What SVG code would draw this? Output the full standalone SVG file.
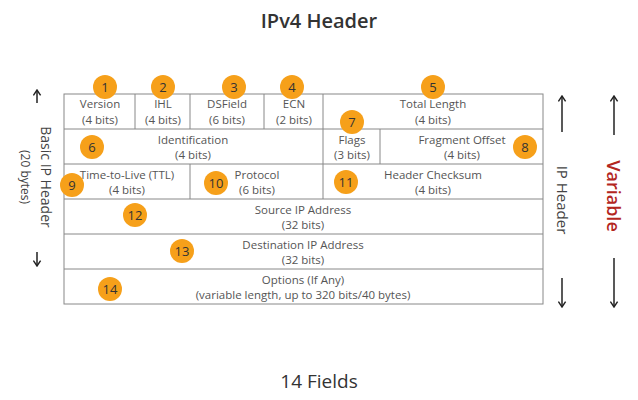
<svg xmlns="http://www.w3.org/2000/svg" width="638" height="400" viewBox="0 0 638 400">
<defs>
<marker id="ah" viewBox="0 0 10 10" refX="9" refY="5" markerWidth="9" markerHeight="9" orient="auto" markerUnits="userSpaceOnUse"><path d="M3,1 L9,5 L3,9" fill="none" stroke="#222" stroke-width="1.6"/></marker>
</defs>
<style>
.c{fill:none;stroke:#888;stroke-width:1}
.t{font-family:"Open Sans","Noto Sans",sans-serif;font-size:11.5px;fill:#555;text-anchor:middle}
.b circle{fill:#F6A01A}
.b text{font-family:"Open Sans",sans-serif;font-size:13px;fill:#333;text-anchor:middle}
.a{stroke:#222;stroke-width:1.5;marker-end:url(#ah)}
</style>
<rect width="638" height="400" fill="#fff"/>
<text x="319" y="28" font-family="Open Sans,sans-serif" font-size="20" font-weight="600" fill="#333" text-anchor="middle">IPv4 Header</text>
<text x="319" y="388" font-family="Open Sans,sans-serif" font-size="19" fill="#333" text-anchor="middle">14 Fields</text>
<g id="grid">
<rect class="c" x="64" y="94" width="479" height="210"/>
<path class="c" d="M64 129H543M64 164H543M64 199H543M64 234H543M64 269H543M135 94V129M190 94V129M264 94V129M323 94V129M323 129V164M380 129V164M190 164V199M323 164V199"/>
</g>
<g id="fields">
<text class="t" x="100" y="108">Version</text><text class="t" x="100" y="124">(4 bits)</text>
<text class="t" x="163" y="108">IHL</text><text class="t" x="163" y="124">(4 bits)</text>
<text class="t" x="227" y="108">DSField</text><text class="t" x="227" y="124">(6 bits)</text>
<text class="t" x="294" y="108">ECN</text><text class="t" x="294" y="124">(2 bits)</text>
<text class="t" x="433" y="108">Total Length</text><text class="t" x="433" y="124">(4 bits)</text>
<text class="t" x="193" y="144">Identification</text><text class="t" x="193" y="159">(4 bits)</text>
<text class="t" x="352" y="144">Flags</text><text class="t" x="352" y="159">(3 bits)</text>
<text class="t" x="462" y="144">Fragment Offset</text><text class="t" x="462" y="159">(4 bits)</text>
<text class="t" x="127" y="179">Time-to-Live (TTL)</text><text class="t" x="127" y="194">(4 bits)</text>
<text class="t" x="257" y="179">Protocol</text><text class="t" x="257" y="194">(6 bits)</text>
<text class="t" x="433" y="179">Header Checksum</text><text class="t" x="433" y="194">(4 bits)</text>
<text class="t" x="303" y="214">Source IP Address</text><text class="t" x="303" y="229">(32 bits)</text>
<text class="t" x="303" y="249">Destination IP Address</text><text class="t" x="303" y="264">(32 bits)</text>
<text class="t" x="303" y="284">Options (If Any)</text><text class="t" x="303" y="299">(variable length, up to 320 bits/40 bytes)</text>
</g>
<g id="badges" class="b">
<g id="b1"><circle cx="105" cy="87" r="12"/><text x="105" y="92">1</text></g>
<g id="b2"><circle cx="163" cy="87" r="12"/><text x="163" y="92">2</text></g>
<g id="b3"><circle cx="234" cy="87" r="12"/><text x="234" y="92">3</text></g>
<g id="b4"><circle cx="292" cy="87" r="12"/><text x="292" y="92">4</text></g>
<g id="b5"><circle cx="433" cy="87" r="12"/><text x="433" y="92">5</text></g>
<g id="b6"><circle cx="92" cy="147" r="12"/><text x="92" y="152">6</text></g>
<g id="b7"><circle cx="352" cy="122" r="12"/><text x="352" y="127">7</text></g>
<g id="b8"><circle cx="525" cy="147" r="12"/><text x="525" y="152">8</text></g>
<g id="b9"><circle cx="72" cy="185" r="12"/><text x="72" y="190">9</text></g>
<g id="b10"><circle cx="216" cy="183" r="12"/><text x="216" y="188">10</text></g>
<g id="b11"><circle cx="346" cy="182" r="12"/><text x="346" y="187">11</text></g>
<g id="b12"><circle cx="135" cy="215" r="12"/><text x="135" y="220">12</text></g>
<g id="b13"><circle cx="182" cy="251" r="12"/><text x="182" y="256">13</text></g>
<g id="b14"><circle cx="110" cy="289" r="12"/><text x="110" y="294">14</text></g>
</g>
<g id="connectors">
<line class="a" x1="37" y1="103" x2="37" y2="90"/>
<line class="a" x1="37" y1="252" x2="37" y2="266"/>
<line class="a" x1="562" y1="132" x2="562" y2="96"/>
<line class="a" x1="562" y1="278" x2="562" y2="307"/>
<line class="a" x1="614" y1="135" x2="614" y2="96"/>
<line class="a" x1="614" y1="258" x2="614" y2="307"/>
</g>
<g id="sidelabels">
<text transform="translate(41,177) rotate(90)" font-family="Open Sans,sans-serif" font-size="14" fill="#444" text-anchor="middle">Basic IP Header</text>
<text transform="translate(21,177) rotate(90)" font-family="Open Sans,sans-serif" font-size="12" fill="#444" text-anchor="middle">(20 bytes)</text>
<text transform="translate(557,200) rotate(90)" font-family="Open Sans,sans-serif" font-size="15" fill="#444" text-anchor="middle">IP Header</text>
<text transform="translate(607,196) rotate(90)" font-family="Open Sans,sans-serif" font-size="18" font-weight="600" fill="#B3261E" text-anchor="middle">Variable</text>
</g>
</svg>
